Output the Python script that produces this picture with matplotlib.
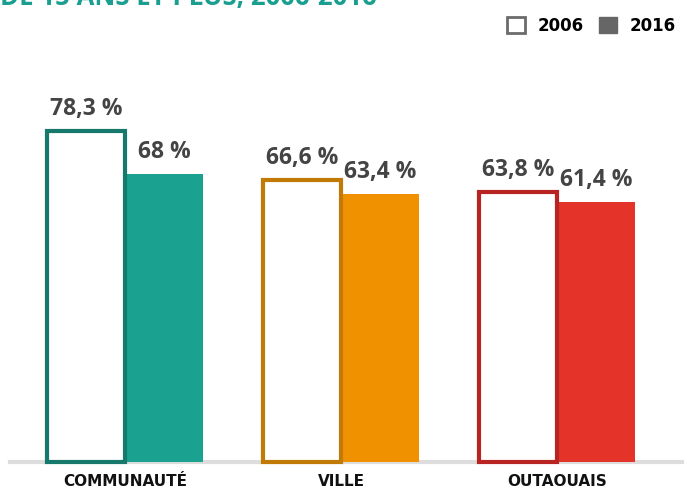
import numpy as np
import matplotlib.pyplot as plt
from matplotlib.patches import Patch

plt.rcParams['font.family'] = ['Open Sans', 'DejaVu Sans']

categories = ["COMMUNAUTÉ", "VILLE", "OUTAOUAIS"]
vals_2006 = [78.3, 66.6, 63.8]
vals_2016 = [68.0, 63.4, 61.4]
labels_2006 = ["78,3 %", "66,6 %", "63,8 %"]
labels_2016 = ["68 %", "63,4 %", "61,4 %"]
series = ["2006", "2016"]

fill_colors = ["#1aa18f", "#f09100", "#e4342a"]
edge_colors = ["#17796c", "#c27a06", "#b82422"]

fig = plt.figure(figsize=(6.92, 4.89), dpi=100)
ax = fig.add_axes([0, 0, 1, 1])

x = np.arange(len(categories))
w = 0.36

for i in range(len(categories)):
    ax.bar(x[i] - w / 2, vals_2006[i], w, color="white",
           edgecolor=edge_colors[i], linewidth=3, zorder=3)
    ax.bar(x[i] + w / 2, vals_2016[i], w, color=fill_colors[i],
           edgecolor="none", zorder=2)
    ax.text(x[i] - w / 2, vals_2006[i] + 2.6, labels_2006[i], ha="center",
            va="bottom", fontsize=16.5, fontweight="bold", color="#444444")
    ax.text(x[i] + w / 2, vals_2016[i] + 2.6, labels_2016[i], ha="center",
            va="bottom", fontsize=16.5, fontweight="bold", color="#444444")
    ax.text(x[i], -2.6, categories[i], ha="center", va="top",
            fontsize=11, fontweight="bold", color="#111111",
            family="DejaVu Sans")

ax.axhline(0, xmin=0.015, xmax=0.985, color="#dddddd", linewidth=3, zorder=1)

ax.set_xlim(-0.579, 2.625)
ax.set_ylim(-6.1, 109.4)
ax.axis("off")

handles = [Patch(facecolor="white", edgecolor="#6b6b6b", linewidth=2),
           Patch(facecolor="#666666", edgecolor="#666666")]
leg = fig.legend(handles, series, loc="upper right", bbox_to_anchor=(0.998, 0.995),
                 ncol=2, frameon=False, handlelength=1.1, handleheight=1.1,
                 handletextpad=0.75, columnspacing=0.9,
                 prop={"weight": "bold", "size": 12, "family": "DejaVu Sans"})

fig.text(0.0, 1 - 5 / 489, "DE 15 ANS ET PLUS, 2006-2016", ha="left",
         va="baseline", fontsize=18.5, fontweight="bold", color="#1a9e8f")

fig.savefig("out.png", dpi=100)
